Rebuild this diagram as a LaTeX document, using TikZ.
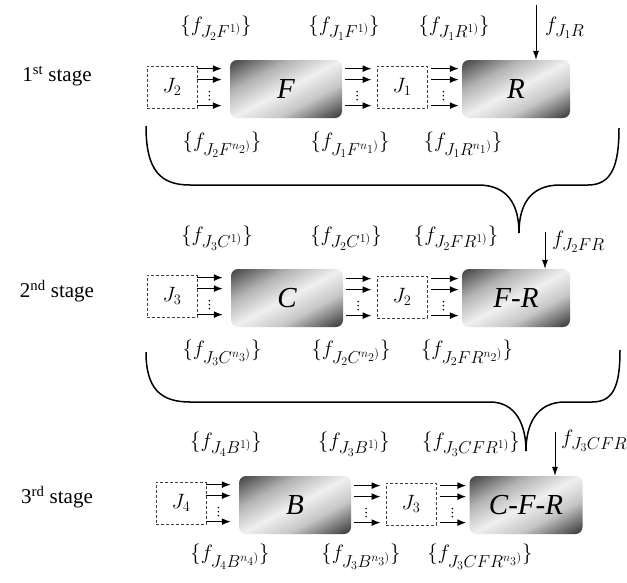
\documentclass[tikz,border=0pt]{standalone}
\usepackage{fontspec}
\setmainfont{Liberation Serif}
\usetikzlibrary{arrows.meta,calc}
\pgfdeclarehorizontalshading{procshade}{100bp}{color(0bp)=(black!78); color(18bp)=(black!70); color(34bp)=(black!30); color(50bp)=(black!6); color(64bp)=(black!22); color(82bp)=(black!75); color(100bp)=(black!82)}
\tikzset{
 proc/.style={shade, shading=procshade, shading angle=-62, rounded corners=7pt, minimum width=112pt, minimum height=58pt, inner sep=0pt, font=\fontsize{29}{31}\selectfont\itshape},
 jbox/.style={draw=black!75, dash pattern=on 3pt off 2pt, line width=0.8pt, minimum width=50pt, minimum height=42pt, inner sep=0pt, font=\fontsize{21}{23}\selectfont},
 arr/.style={-{Latex[length=9pt,width=7pt]}, line width=1.4pt},
 varr/.style={-{Latex[length=9pt,width=6pt]}, line width=0.8pt},
 flab/.style={font=\fontsize{22}{24}\selectfont, inner sep=0pt},
 stagelab/.style={font=\fontsize{21}{23}\selectfont, inner sep=0pt},
 bracepath/.style={line width=1.5pt}
}
\DeclareMathSizes{22}{22}{16}{12}
% #1 source, #2 target, #3 J box giving the top, #4 start gap, #5 end gap
\newcommand\mkarrows[5]{%
  \foreach \dy in {3,14,40}{%
    \draw[arr] ($(#1.east |- #3.north)+(#4,\dy)$) -- ($(#2.west |- #3.north)+(-#5,\dy)$);}
  \foreach \k in {0,4,8}{%
    \fill ($(#1.east |- #3.north)+(#4+12,26+\k)$) circle (0.9pt);}
}
\begin{document}
\begin{tikzpicture}[x=1pt,y=-1pt]
\useasboundingbox (0,0) rectangle (627,582);
\fill[white] (0,0) rectangle (627,582);

% ---------- stage 1 ----------
\node[stagelab] (st1) at (57,76) {1\textsuperscript{st} stage};
\node[jbox] (J2a) at (172,87) {$J_2$};
\node[proc] (F) at (286,89) {F};
\node[jbox] (J1a) at (402,87) {$J_1$};
\node[proc, minimum width=108pt] (R) at (516,89) {R};
\mkarrows{J2a}{F}{J2a}{0}{8}
\mkarrows{F}{J1a}{J1a}{3}{5}
\mkarrows{J1a}{R}{J1a}{4}{3}
\node[flab] (t11) at (216,28) {$\Big\{f_{J_2F^{1)}}\Big\}$};
\node[flab] (t12) at (344,28) {$\Big\{f_{J_1F^{1)}}\Big\}$};
\node[flab] (t13) at (454,28) {$\Big\{f_{J_1R^{1)}}\Big\}$};
\node[flab] (b11) at (222,145) {$\Big\{f_{J_2F^{n_2)}}\Big\}$};
\node[flab] (b12) at (350,145) {$\Big\{f_{J_1F^{n_1)}}\Big\}$};
\node[flab] (b13) at (463,145) {$\Big\{f_{J_1R^{n_1)}}\Big\}$};
\coordinate (v1) at (536,5);
\draw[varr] (v1) -- (v1 |- R.north);
\node[flab, anchor=west] (fv1) at (545,28) {$f_{J_1R}$};
\draw[bracepath] (146,126) .. controls (146,170) and (160,185) .. (190,185) -- (478,185)
  .. controls (508,185) and (519,205) .. (519,233)
  .. controls (519,205) and (530,185) .. (560,185) -- (588,185)
  .. controls (612,185) and (619,165) .. (619,128);

% ---------- stage 2 ----------
\node[stagelab] (st2) at (57,291) {2\textsuperscript{nd} stage};
\node[jbox] (J3b) at (172,296) {$J_3$};
\node[proc] (C) at (287,298) {C};
\node[jbox] (J2b) at (402,297) {$J_2$};
\node[proc, minimum width=108pt] (FR) at (516,298) {F-R};
\mkarrows{J3b}{C}{J3b}{0}{8}
\mkarrows{C}{J2b}{J2b}{3}{5}
\mkarrows{J2b}{FR}{J2b}{4}{3}
\node[flab] (t21) at (217,238) {$\Big\{f_{J_3C^{1)}}\Big\}$};
\node[flab] (t22) at (346,238) {$\Big\{f_{J_2C^{1)}}\Big\}$};
\node[flab] (t23) at (456,238) {$\Big\{f_{J_2FR^{1)}}\Big\}$};
\node[flab] (b21) at (222,353) {$\Big\{f_{J_3C^{n_3)}}\Big\}$};
\node[flab] (b22) at (351,353) {$\Big\{f_{J_2C^{n_2)}}\Big\}$};
\node[flab] (b23) at (467,353) {$\Big\{f_{J_2FR^{n_2)}}\Big\}$};
\coordinate (v2) at (545,232);
\draw[varr] (v2) -- (v2 |- FR.north);
\node[flab, anchor=west] (fv2) at (552,242) {$f_{J_2FR}$};
\draw[bracepath] (146,352) .. controls (146,388) and (160,402) .. (190,402) -- (490,402)
  .. controls (516,402) and (526,425) .. (526,451)
  .. controls (526,425) and (536,402) .. (565,402) -- (592,402)
  .. controls (614,402) and (620,385) .. (620,350);

% ---------- stage 3 ----------
\node[stagelab] (st3) at (57,497) {3\textsuperscript{rd} stage};
\node[jbox] (J4c) at (181,503) {$J_4$};
\node[proc] (B) at (295,505) {B};
\node[jbox] (J3c) at (411,504) {$J_3$};
\node[proc, minimum width=113pt] (CFR) at (526,505) {C-F-R};
\mkarrows{J4c}{B}{J4c}{0}{8}
\mkarrows{B}{J3c}{J3c}{3}{5}
\mkarrows{J3c}{CFR}{J3c}{4}{3}
\node[flab] (t31) at (226,444) {$\Big\{f_{J_4B^{1)}}\Big\}$};
\node[flab] (t32) at (354,444) {$\Big\{f_{J_3B^{1)}}\Big\}$};
\node[flab] (t33) at (471,444) {$\Big\{f_{J_3CFR^{1)}}\Big\}$};
\node[flab] (b31) at (230,557) {$\Big\{f_{J_4B^{n_4)}}\Big\}$};
\node[flab] (b32) at (361,557) {$\Big\{f_{J_3B^{n_3)}}\Big\}$};
\node[flab] (b33) at (480,557) {$\Big\{f_{J_3CFR^{n_3)}}\Big\}$};
\coordinate (v3) at (555,432);
\draw[varr] (v3) -- (v3 |- CFR.north);
\node[flab, anchor=west] (fv3) at (561,441) {$f_{J_3CFR}$};
\end{tikzpicture}
\end{document}
